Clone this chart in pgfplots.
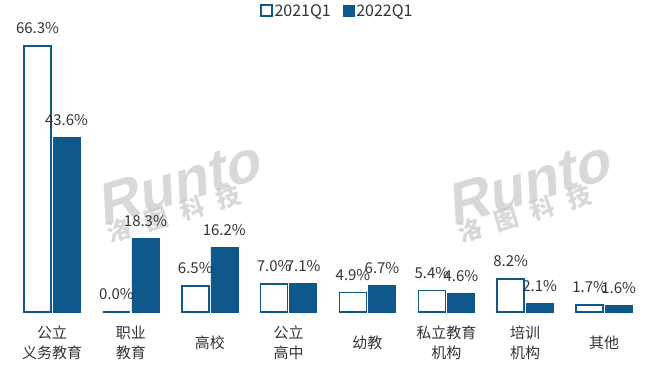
\documentclass[border=0pt]{standalone}
\usepackage{pgfplots}
\pgfplotsset{compat=1.18}
\usepackage{fontspec}
\setmainfont{Noto Sans CJK SC}
\newfontfamily\wmfont[FakeSlant=0.25]{Liberation Sans}
\definecolor{rblue}{RGB}{14,88,140}
\definecolor{txt}{RGB}{51,51,51}
\definecolor{wm}{RGB}{200,200,200}
\begin{document}
\begin{tikzpicture}
\begin{axis}[name=ax,
  scale only axis, width=664pt, height=312pt,
  xmin=-0.66, xmax=7.76, ymin=0, ymax=77.8,
  ybar=2pt, bar width=27pt,
  axis line style={draw=none}, major tick length=0pt,
  ytick=\empty,
  xtick={0,...,7},
  xticklabels={{公立\\义务教育},{职业\\教育},{高校},{公立\\高中},{幼教},{私立教育\\机构},{培训\\机构},{其他}},
  xticklabel style={anchor=center, align=center, yshift=-31pt, font=\fontsize{15}{20}\selectfont, text=txt},
  /pgf/number format/assume math mode=true,
  nodes near coords={\pgfmathprintnumber[fixed,fixed zerofill,precision=1]{\pgfplotspointmeta}\%},
  nodes near coords style={font=\fontsize{15}{18}\selectfont, text=txt, yshift=8pt},
  legend style={draw=none, at={(0.508,1)}, anchor=north, legend columns=2,
    font=\fontsize{16}{18}\selectfont, text=txt, /tikz/every even column/.append style={column sep=10pt}},
  legend image code/.code={\draw[#1] (0pt,-5pt) rectangle (11pt,6pt);},
  clip=false,
]
\addplot[draw=rblue, fill=white, line width=1.5pt] coordinates {(0,66.3) (1,0.0) (2,6.5) (3,7.0) (4,4.9) (5,5.4) (6,8.2) (7,1.7)};
\addplot[draw=rblue, fill=rblue, line width=0.5pt] coordinates {(0,43.6) (1,18.3) (2,16.2) (3,7.1) (4,6.7) (5,4.6) (6,2.1) (7,1.6)};
\legend{2021Q1,2022Q1}
\node[rotate=17, text=wm, opacity=0.7, font=\wmfont\bfseries\fontsize{58}{60}\selectfont] at (axis cs:1.58,32) {Runto};
\node[rotate=17, text=wm, opacity=0.7, font=\bfseries\fontsize{24}{26}\selectfont] at (axis cs:1.55,24.5) {洛\hspace{14pt}图\hspace{14pt}科\hspace{14pt}技};
\node[rotate=17, text=wm, opacity=0.7, font=\wmfont\bfseries\fontsize{58}{60}\selectfont] at (axis cs:6.02,32) {Runto};
\node[rotate=17, text=wm, opacity=0.7, font=\bfseries\fontsize{24}{26}\selectfont] at (axis cs:5.99,24.5) {洛\hspace{14pt}图\hspace{14pt}科\hspace{14pt}技};
\end{axis}
\pgfresetboundingbox
\path[use as bounding box] (ax.south west) ++(0pt,-60pt) rectangle (ax.north east);
\end{tikzpicture}
\end{document}
